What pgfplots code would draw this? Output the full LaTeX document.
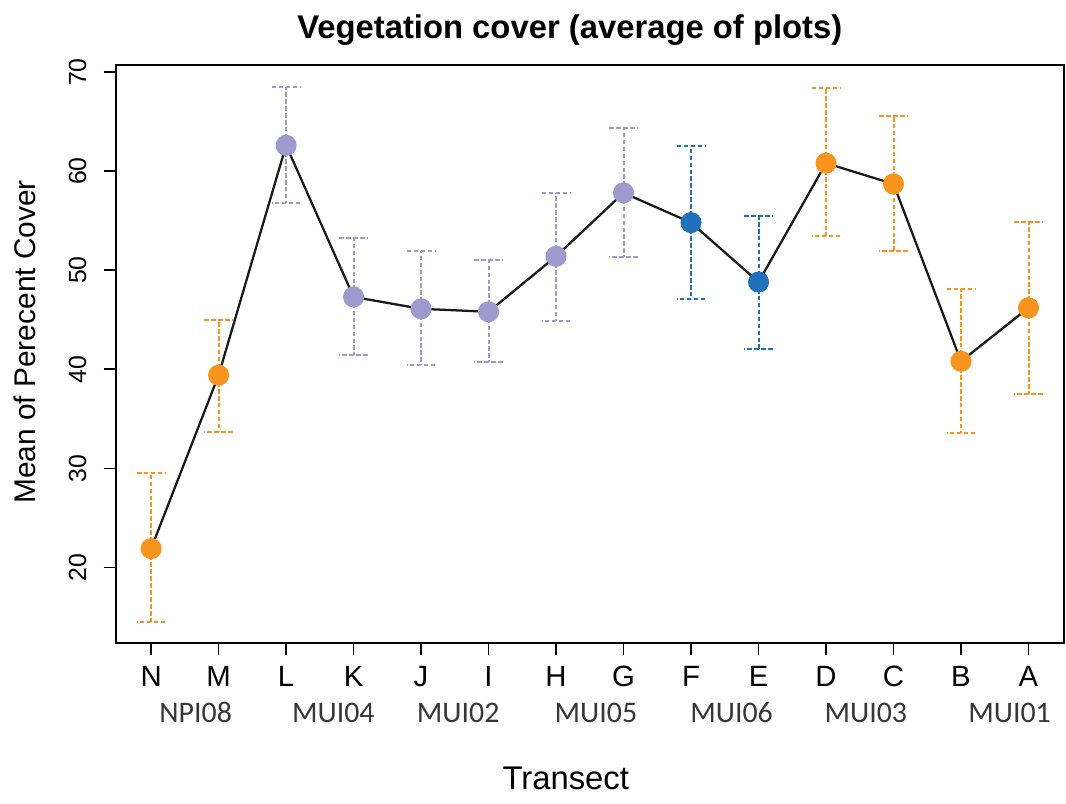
\documentclass[border=0pt]{standalone}
\usepackage{fontspec}
\setmainfont{Liberation Sans}
\newfontfamily\grpfont{Carlito}
\usepackage{pgfplots}
\usepackage{pgfplotstable}
\pgfplotsset{compat=1.18}

\definecolor{orng}{RGB}{247,148,30}
\definecolor{lav}{RGB}{157,154,206}
\definecolor{blu}{RGB}{33,113,186}
\definecolor{grptxt}{RGB}{55,55,55}

% transect means (N ... A at x = 0 ... 13) with lower/upper limits
\pgfplotstableread{
x  y     lo    hi
0  21.9  14.5  29.5
1  39.4  33.7  45.0
2  62.6  56.8  68.5
3  47.3  41.4  53.2
4  46.1  40.4  51.9
5  45.8  40.7  51.0
6  51.4  44.9  57.8
7  57.8  51.3  64.3
8  54.8  47.1  62.5
9  48.8  42.0  55.5
10 60.8  53.4  68.4
11 58.7  51.9  65.6
12 40.8  33.6  48.1
13 46.2  37.5  54.9
}\transects

\pgfplotsset{
  bars/.style={
    only marks, mark=none,
    error bars/.cd, y dir=both, y explicit,
    error bar style={#1, line width=0.75pt, dash pattern=on 1.7pt off 0.9pt},
    error mark=|,
    error mark options={#1, mark size=5.3pt, line width=0.75pt, dash pattern=on 1.7pt off 0.9pt},
    /pgfplots/.cd},
  dots/.style={only marks, mark=*, mark size=3.75pt, mark options={draw=#1, fill=#1}},
  /pgfplots/table/limits/.style={x=x, y=y,
    y error plus expr=\thisrow{hi}-\thisrow{y},
    y error minus expr=\thisrow{y}-\thisrow{lo}},
}

\begin{document}
\begin{tikzpicture}
\begin{axis}[
  scale only axis,
  width=355.3pt, height=216.6pt,
  xmin=-0.52, xmax=13.52,
  ymin=12.4, ymax=70.7,
  clip=false,
  axis line style={line width=0.8pt},
  tick align=outside,
  major tick length=4.6pt,
  tick style={line width=0.6pt, black},
  xtick pos=bottom, ytick pos=left,
  xtick={0,...,13},
  xticklabels={N,M,L,K,J,I,H,G,F,E,D,C,B,A},
  ytick={20,30,40,50,60,70},
  /pgf/number format/assume math mode=true,
  xticklabel style={font=\fontsize{11}{13}\selectfont, anchor=center, yshift=-7.9pt},
  yticklabel style={font=\fontsize{9.3}{11}\selectfont, xshift=-9.8pt, rotate=90, anchor=center},
  title={Vegetation cover (average of plots)},
  every axis title/.style={font=\fontsize{12.3}{14}\bfseries, at={(rel axis cs:0.5,1)}, anchor=center, xshift=-7.5pt, yshift=13pt},
  xlabel={Transect},
  every axis x label/.style={at={(rel axis cs:0.5,0)}, anchor=center, xshift=-9pt, yshift=-51pt, font=\fontsize{12.3}{14}\selectfont},
  ylabel={Mean of Perecent Cover},
  every axis y label/.style={at={(rel axis cs:0,0.5)}, rotate=90, anchor=center, xshift=4.5pt, yshift=34pt, font=\fontsize{11.2}{13}\selectfont},
]
% dashed error bars, coloured by site
\addplot[bars=orng, restrict x to domain=0:1]   table[limits] {\transects};
\addplot[bars=lav,  restrict x to domain=2:7]   table[limits] {\transects};
\addplot[bars=blu,  restrict x to domain=8:9]   table[limits] {\transects};
\addplot[bars=orng, restrict x to domain=10:13] table[limits] {\transects};
% connecting line
\addplot[black!90, line width=0.85pt, mark=none] table[x=x, y=y] {\transects};
% means
\addplot[dots=orng, restrict x to domain=0:1]   table[x=x, y=y] {\transects};
\addplot[dots=lav,  restrict x to domain=2:7]   table[x=x, y=y] {\transects};
\addplot[dots=blu,  restrict x to domain=8:9]   table[x=x, y=y] {\transects};
\addplot[dots=orng, restrict x to domain=10:13] table[x=x, y=y] {\transects};
% site names under the transect letters
\foreach \xx/\nm in {0.66/NPI08, 2.70/MUI04, 4.55/MUI02, 6.59/MUI05, 8.60/MUI06, 10.59/MUI03, 12.72/MUI01} {
  \edef\temp{\noexpand\node[font=\noexpand\grpfont\noexpand\fontsize{11.2}{13}\noexpand\selectfont, text=grptxt, anchor=center, yshift=-26.3pt] at (axis cs:\xx,12.4) {\nm};}
  \temp
}
\coordinate (bl) at (rel axis cs:0,0);
\coordinate (tr) at (rel axis cs:1,1);
\end{axis}
\pgfresetboundingbox
\path[use as bounding box] ([shift={(-43.5pt,-60.1pt)}]bl) rectangle ([shift={(0.9pt,24.4pt)}]tr);
\end{tikzpicture}
\end{document}
